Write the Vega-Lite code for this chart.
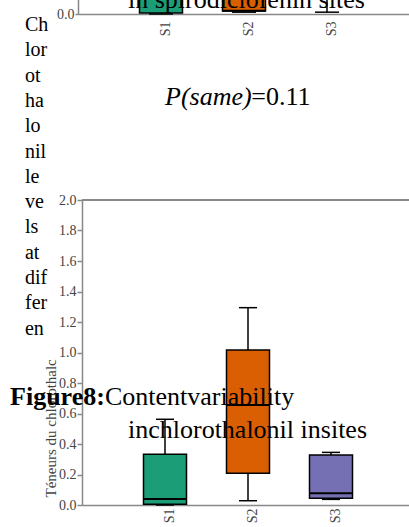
{
  "$schema": "https://vega.github.io/schema/vega-lite/v6.json",
  "width": 327,
  "height": 305,
  "autosize": {"type": "none"},
  "padding": {"left": 82, "top": 200, "right": 0, "bottom": 22},
  "config": {
    "view": {"stroke": null},
    "font": "Liberation Serif",
    "axisY": {"labelOverlap": false, "tickCount": 11}
  },
  "datasets": {
    "main": [
      {"site": "S1", "min": 0.0, "q1": 0.005, "median": 0.04, "q3": 0.332, "max": 0.562},
      {"site": "S2", "min": 0.028, "q1": 0.208, "median": 0.656, "q3": 1.016, "max": 1.294},
      {"site": "S3", "min": 0.037, "q1": 0.044, "median": 0.077, "q3": 0.328, "max": 0.345}
    ],
    "prev": [
      {"site": "S1", "min": 0.0, "q1": 0.007, "median": 0.3, "q3": 0.6, "max": 0.9},
      {"site": "S2", "min": 0.012, "q1": 0.02, "median": 0.022, "q3": 0.5, "max": 0.8},
      {"site": "S3", "min": 0.012, "q1": 0.15, "median": 0.3, "q3": 0.5, "max": 0.7}
    ],
    "note": [{"figure": 8}]
  },
  "layer": [
    {
      "data": {"name": "main"},
      "encoding": {
        "x": {
          "field": "site",
          "type": "nominal",
          "scale": {"type": "point", "domain": ["S1", "S2", "S3"], "padding": 1, "range": [0, 332]},
          "axis": {
            "orient": "bottom",
            "title": null,
            "labelAngle": 270,
            "ticks": false,
            "labelPadding": 3,
            "labelOffset": 4,
            "labelFont": "Liberation Serif",
            "labelFontSize": 14,
            "labelColor": "#444444",
            "domainColor": "#888888",
            "domainWidth": 1.5
          }
        }
      },
      "layer": [
        {
          "mark": {"type": "rule", "color": "black", "strokeWidth": 1.5},
          "encoding": {
            "y": {
              "field": "min",
              "type": "quantitative",
              "scale": {"domain": [0, 2]},
              "axis": {
                "orient": "left",
                "values": [0, 0.2, 0.4, 0.6, 0.8, 1.0, 1.2, 1.4, 1.6, 1.8, 2.0],
                "tickCount": 11,
                "format": ".1f",
                "grid": false,
                "labelOverlap": false,
                "labelFont": "Liberation Serif",
                "labelFontSize": 14,
                "labelColor": "#444444",
                "labelPadding": 1,
                "tickSize": 5,
                "tickColor": "#888888",
                "tickWidth": 1.5,
                "domainColor": "#888888",
                "domainWidth": 1.5,
                "title": "Téneurs du chlorothalc",
                "titleFont": "Liberation Serif",
                "titleFontSize": 15,
                "titleFontWeight": "normal",
                "titleColor": "#444444",
                "titleAngle": 270,
                "titleAlign": "left",
                "titleBaseline": "middle",
                "titleX": -32,
                "titleY": 297
              }
            },
            "y2": {"field": "max"}
          }
        },
        {
          "mark": {"type": "bar", "size": 43, "stroke": "black", "strokeWidth": 1.5},
          "encoding": {
            "y": {"field": "q1", "type": "quantitative"},
            "y2": {"field": "q3"},
            "color": {
              "field": "site",
              "type": "nominal",
              "scale": {"domain": ["S1", "S2", "S3"], "range": ["#1b9e77", "#d95f02", "#7570b3"]},
              "legend": null
            }
          }
        },
        {
          "mark": {"type": "tick", "size": 43, "thickness": 2, "color": "black", "opacity": 1},
          "encoding": {"y": {"field": "median", "type": "quantitative"}}
        },
        {
          "mark": {"type": "tick", "size": 18, "thickness": 1.5, "color": "black", "opacity": 1},
          "encoding": {"y": {"field": "max", "type": "quantitative"}}
        },
        {
          "mark": {"type": "tick", "size": 18, "thickness": 1.5, "color": "black", "opacity": 1},
          "encoding": {"y": {"field": "min", "type": "quantitative"}}
        },
        {
          "mark": {"type": "rule", "color": "#888888", "strokeWidth": 1.5},
          "encoding": {"x": null, "y": {"datum": 2, "type": "quantitative"}}
        }
      ]
    },
    {
      "data": {"name": "prev"},
      "encoding": {
        "x": {
          "field": "site",
          "type": "nominal",
          "scale": {"type": "point", "domain": ["S1", "S2", "S3"], "padding": 1, "range": [-4, 328]},
          "axis": {
            "orient": "bottom",
            "offset": -491,
            "title": null,
            "labelAngle": 270,
            "ticks": false,
            "labelPadding": 7,
            "labelOffset": 4,
            "labelFont": "Liberation Serif",
            "labelFontSize": 14,
            "labelColor": "#444444",
            "domainColor": "#888888",
            "domainWidth": 1.5
          }
        }
      },
      "layer": [
        {
          "mark": {"type": "rule", "color": "black", "strokeWidth": 1.5},
          "encoding": {
            "y": {
              "field": "min",
              "type": "quantitative",
              "scale": {"domain": [0, 2], "range": [-186, -491]},
              "axis": {
                "orient": "left",
                "offset": 4,
                "values": [0],
                "format": ".1f",
                "grid": false,
                "title": null,
                "labelFont": "Liberation Serif",
                "labelFontSize": 14,
                "labelColor": "#444444",
                "labelPadding": 1,
                "tickSize": 3,
                "tickColor": "#888888",
                "tickWidth": 1.5,
                "domainColor": "#888888",
                "domainWidth": 1.5
              }
            },
            "y2": {"field": "max"}
          }
        },
        {
          "mark": {"type": "bar", "size": 43, "stroke": "black", "strokeWidth": 1.5},
          "encoding": {
            "y": {"field": "q1", "type": "quantitative"},
            "y2": {"field": "q3"},
            "color": {
              "field": "site",
              "type": "nominal",
              "scale": {"domain": ["S1", "S2", "S3"], "range": ["#1b9e77", "#d95f02", "#7570b3"]},
              "legend": null
            }
          }
        },
        {
          "mark": {"type": "tick", "size": 43, "thickness": 2, "color": "black", "opacity": 1},
          "encoding": {"y": {"field": "median", "type": "quantitative"}}
        },
        {
          "mark": {"type": "tick", "size": 24, "thickness": 1.5, "color": "black", "opacity": 1},
          "encoding": {"y": {"field": "min", "type": "quantitative"}}
        }
      ]
    },
    {
      "data": {"name": "note"},
      "layer": [
        {
          "mark": {"type": "text", "text": ["Ch", "lor", "ot", "ha", "lo", "nil", "le", "ve", "ls", "at", "dif", "fer", "en"], "font": "Liberation Serif", "fontSize": 20, "lineHeight": 25.3, "align": "left", "baseline": "alphabetic", "color": "black"},
          "encoding": {
            "x": {"datum": -0.687, "type": "quantitative", "scale": {"domain": [0, 4], "range": [0, 332]}, "axis": null},
            "y": {"datum": 3.108, "type": "quantitative", "scale": {"domain": [0, 2]}, "axis": null}
          }
        },
        {
          "mark": {"type": "text", "text": "in spirodiclofenin sites", "font": "Liberation Serif", "fontSize": 26, "align": "left", "baseline": "alphabetic", "color": "black"},
          "encoding": {
            "x": {"datum": 0.554, "type": "quantitative", "scale": {"domain": [0, 4], "range": [0, 332]}, "axis": null},
            "y": {"datum": 3.259, "type": "quantitative", "scale": {"domain": [0, 2]}, "axis": null}
          }
        },
        {
          "mark": {"type": "text", "text": "P(same)", "font": "Liberation Serif", "fontStyle": "italic", "fontSize": 26, "align": "left", "baseline": "alphabetic", "color": "black"},
          "encoding": {
            "x": {"datum": 1.0, "type": "quantitative", "scale": {"domain": [0, 4], "range": [0, 332]}, "axis": null},
            "y": {"datum": 2.623, "type": "quantitative", "scale": {"domain": [0, 2]}, "axis": null}
          }
        },
        {
          "mark": {"type": "text", "text": "=0.11", "font": "Liberation Serif", "fontSize": 26, "align": "left", "baseline": "alphabetic", "color": "black"},
          "encoding": {
            "x": {"datum": 2.04, "type": "quantitative", "scale": {"domain": [0, 4], "range": [0, 332]}, "axis": null},
            "y": {"datum": 2.623, "type": "quantitative", "scale": {"domain": [0, 2]}, "axis": null}
          }
        },
        {
          "mark": {"type": "text", "text": "Figure8:", "font": "Liberation Serif", "fontWeight": "bold", "fontSize": 26, "align": "left", "baseline": "alphabetic", "color": "black"},
          "encoding": {
            "x": {"datum": -0.867, "type": "quantitative", "scale": {"domain": [0, 4], "range": [0, 332]}, "axis": null},
            "y": {"datum": 0.656, "type": "quantitative", "scale": {"domain": [0, 2]}, "axis": null}
          }
        },
        {
          "mark": {"type": "text", "text": "Contentvariability", "font": "Liberation Serif", "fontSize": 26, "align": "left", "baseline": "alphabetic", "color": "black"},
          "encoding": {
            "x": {"datum": 0.277, "type": "quantitative", "scale": {"domain": [0, 4], "range": [0, 332]}, "axis": null},
            "y": {"datum": 0.656, "type": "quantitative", "scale": {"domain": [0, 2]}, "axis": null}
          }
        },
        {
          "mark": {"type": "text", "text": "inchlorothalonil insites", "font": "Liberation Serif", "fontSize": 26, "align": "left", "baseline": "alphabetic", "color": "black"},
          "encoding": {
            "x": {"datum": 0.554, "type": "quantitative", "scale": {"domain": [0, 4], "range": [0, 332]}, "axis": null},
            "y": {"datum": 0.439, "type": "quantitative", "scale": {"domain": [0, 2]}, "axis": null}
          }
        }
      ]
    }
  ],
  "resolve": {
    "scale": {"x": "independent", "y": "independent"},
    "axis": {"x": "independent", "y": "independent"}
  }
}
